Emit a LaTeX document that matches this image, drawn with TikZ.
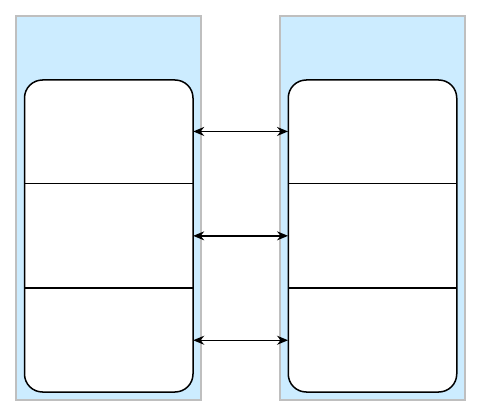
\documentclass[tikz,border=0pt]{standalone}
\usetikzlibrary{arrows.meta,positioning}
\definecolor{lanefill}{RGB}{204,236,255}
\definecolor{laneline}{RGB}{191,191,191}
\begin{document}
\begin{tikzpicture}[x=1pt,y=-1pt,
  lane/.style={draw=laneline, line width=1.5pt, fill=lanefill, minimum width=185pt, minimum height=384pt, inner sep=0pt},
  frame/.style={draw=black, line width=1.5pt, fill=white, rounded corners=18pt, minimum width=168.5pt, minimum height=312pt, inner sep=0pt},
  cell/.style={minimum width=168.5pt, minimum height=104pt, inner sep=0pt},
  link/.style={{Stealth[length=11pt,width=9pt]}-{Stealth[length=11pt,width=9pt]}, line width=1.5pt}]
\useasboundingbox (0,0) rectangle (480,420);

% left and right lanes
\node[lane] (laneA) at (108.5,208) {};
\node[lane] (laneB) at (372.5,208) {};

\node[frame] (frameA) at (108.75,236) {};
\node[frame] (frameB) at (372.5,236) {};

% cells
\node[cell, below=0pt of frameA.north] (a1) {};
\node[cell, below=0pt of a1] (a2) {};
\node[cell, below=0pt of a2] (a3) {};
\node[cell, below=0pt of frameB.north] (b1) {};
\node[cell, below=0pt of b1] (b2) {};
\node[cell, below=0pt of b2] (b3) {};

\draw[line width=1.5pt] (a1.south west) -- (a1.south east);
\draw[line width=1.5pt] (a2.south west) -- (a2.south east);
\draw[line width=1.5pt] (b1.south west) -- (b1.south east);
\draw[line width=1.5pt] (b2.south west) -- (b2.south east);

\draw[link] (a1.east) -- (b1.west);
\draw[link] (a2.east) -- (b2.west);
\draw[link] (a3.east) -- (b3.west);
\end{tikzpicture}
\end{document}
